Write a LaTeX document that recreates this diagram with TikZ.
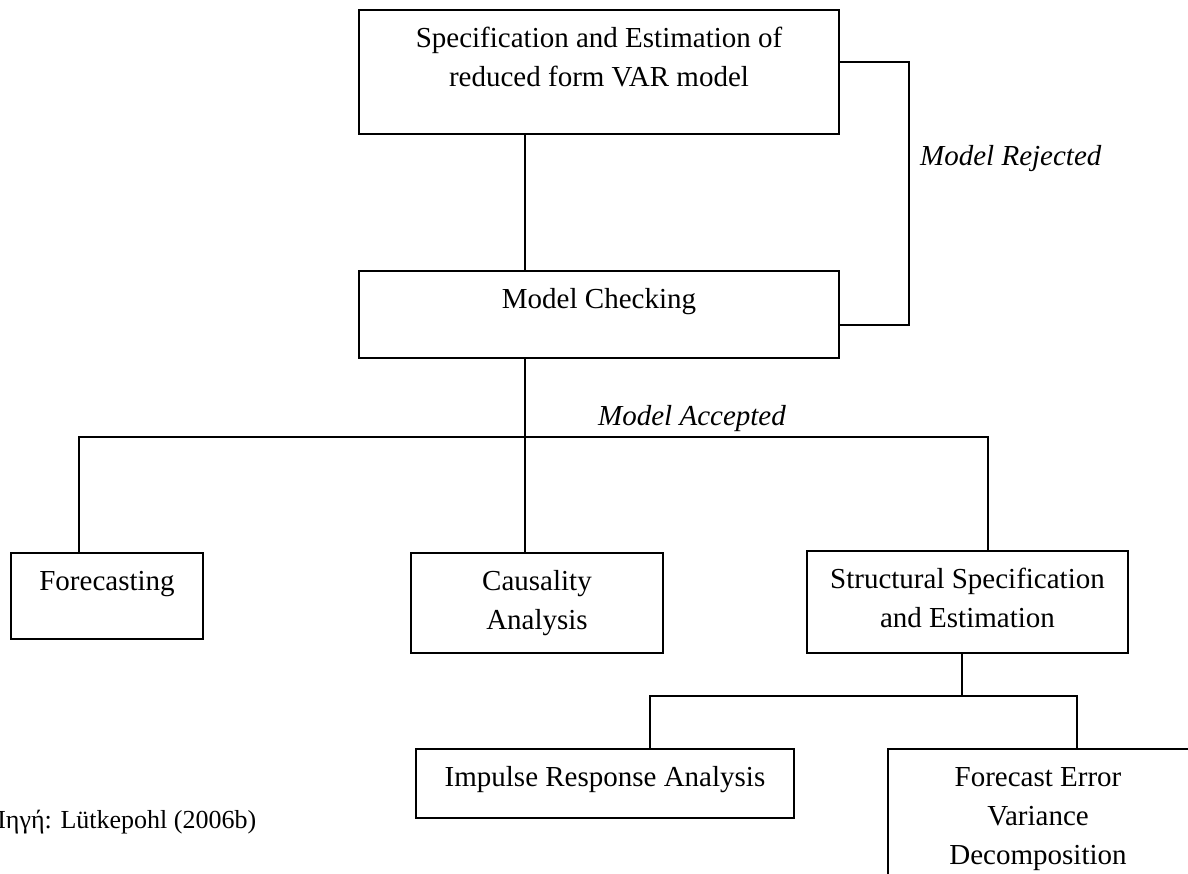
\documentclass[tikz,border=0pt]{standalone}
\usepackage{fontspec}
\setmainfont{Liberation Serif}
\begin{document}
\begin{tikzpicture}[x=1pt,y=-1pt,
  box/.style={draw, line width=2pt, inner sep=0pt, anchor=north west},
  txt/.style={font=\fontsize{29}{39}\selectfont, align=center, inner sep=0pt, anchor=north},
  lbl/.style={font=\fontsize{29}{39}\selectfont\itshape, inner sep=0pt, anchor=base west},
  conn/.style={line width=2pt}]
\useasboundingbox (0,0) rectangle (1188,873);
% boxes
\node[box, minimum width=480, minimum height=124] (top) at (358,9) {};
\node[box, minimum width=480, minimum height=87] (mc) at (358,270) {};
\node[box, minimum width=192, minimum height=86] (fc) at (10,552) {};
\node[box, minimum width=252, minimum height=100] (ca) at (410,552) {};
\node[box, minimum width=321, minimum height=102] (ss) at (806,550) {};
\node[box, minimum width=378, minimum height=69] (ir) at (415,748) {};
\node[box, minimum width=305, minimum height=160] (fe) at (887,748) {};
% texts
\node[txt] (topT) at ([yshift=-10.7pt]top.north) {\strut Specification and Estimation of\\reduced form VAR model};
\node[txt] (mcT) at ([yshift=-10.7pt]mc.north) {\strut Model Checking};
\node[txt] (fcT) at ([yshift=-10.7pt]fc.north) {\strut Forecasting};
\node[txt] (caT) at ([yshift=-10.7pt]ca.north) {\strut Causality\\Analysis};
\node[txt] (ssT) at ([yshift=-10.7pt]ss.north) {\strut Structural Specification\\and Estimation};
\node[txt] (irT) at ([yshift=-10.7pt]ir.north) {\strut Impulse Response Analysis};
\node[txt] (feT) at (1038,758.7) {\strut Forecast Error\\Variance\\Decomposition};
% labels
\node[lbl] (rej) at (920,165) {Model Rejected};
\node[lbl] (acc) at (598,425) {Model Accepted};
\node[font=\fontsize{26}{30}\selectfont, inner sep=0pt, anchor=base west] (src) at (-13,828) {Πηγή: Lütkepohl (2006b)};
% junction coordinates
\coordinate (fb1) at (909,325);
\coordinate (fb2) at (909,62);
\coordinate (j1) at (525,437);
\coordinate (bl) at (79,437);
\coordinate (br) at (988,437);
\coordinate (j2) at (962,696);
\coordinate (b2l) at (650,696);
\coordinate (b2r) at (1077,696);
% connectors
\draw[conn] (top.south -| j1) -- (mc.north -| j1);
\draw[conn] (mc.east |- fb1) -- (fb1) -- (fb2) -- (top.east |- fb2);
\draw[conn] (mc.south -| j1) -- (j1);
\draw[conn] (fc.north -| bl) -- (bl) -- (br) -- (ss.north -| br);
\draw[conn] (j1) -- (ca.north -| j1);
\draw[conn] (ss.south -| j2) -- (j2);
\draw[conn] (ir.north -| b2l) -- (b2l) -- (b2r) -- (fe.north -| b2r);
\end{tikzpicture}
\end{document}
